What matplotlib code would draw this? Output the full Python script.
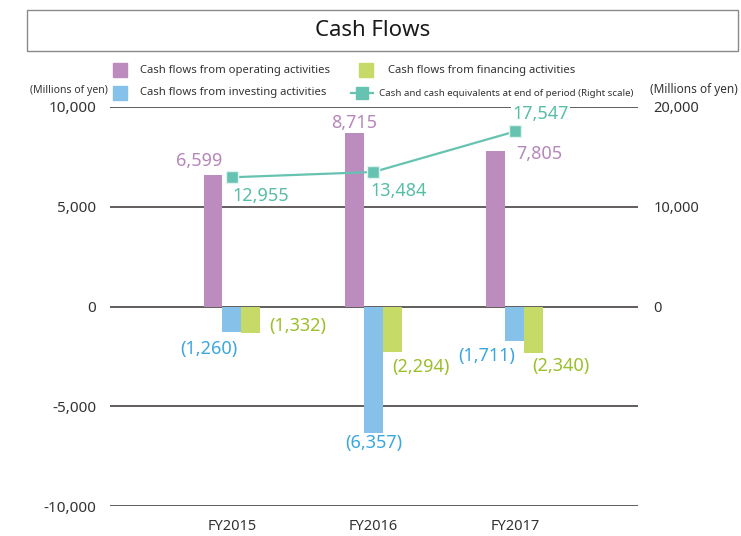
import matplotlib.pyplot as plt
from matplotlib.patches import Rectangle
from matplotlib.lines import Line2D
import numpy as np

# data
years = ['FY2015', 'FY2016', 'FY2017']
operating = [6599, 8715, 7805]
investing = [-1260, -6357, -1711]
financing = [-1332, -2294, -2340]
cash_end = [12955, 13484, 17547]

c_op = '#bc8cbf'
c_inv = '#86c1ea'
c_fin = '#c6da68'
c_cash = '#66c3b1'
t_op = '#b587b9'
t_inv = '#3ba7df'
t_fin = '#9cbf2b'
t_cash = '#57bda7'

plt.rcParams['font.family'] = ['Noto Sans', 'DejaVu Sans']

W, H = 741, 536
fig = plt.figure(figsize=(W / 100, H / 100), dpi=100)

def fx(px):
    return px / W

def fy(py):
    return 1 - py / H

# axes placed by pixels
ax = fig.add_axes([fx(110), fy(506), fx(638) - fx(110), fy(107) - fy(506)])
ax2 = ax.twinx()

x = np.arange(len(years))
bw = 0.134
ax.bar(x - bw, operating, bw, color=c_op, zorder=3)
ax.bar(x, investing, bw, color=c_inv, zorder=3)
ax.bar(x + bw, financing, bw, color=c_fin, zorder=3)

ax.set_xlim(-0.862, 2.87)
ax.set_ylim(-10000, 10000)
ax.set_yticks([-10000, -5000, 0, 5000, 10000])
ax.set_yticklabels(['-10,000', '-5,000', '0', '5,000', '10,000'])
for v in [-10000, -5000, 0, 5000, 10000]:
    ax.axhline(v, color='#555050', lw=1.3, zorder=2)
ax.set_xticks(x)
ax.set_xticklabels(years)
ax.tick_params(axis='y', length=0, pad=10, labelsize=11, colors='#333')
ax.tick_params(axis='x', length=0, pad=9, labelsize=10.5, colors='#333')
for s in ax.spines.values():
    s.set_visible(False)

ax2.set_ylim(-20000, 20000)
ax2.set_yticks([0, 10000, 20000])
ax2.set_yticklabels(['0', '10,000', '20,000'])
ax2.tick_params(axis='y', length=0, pad=11, labelsize=10.5, colors='#333')
for s in ax2.spines.values():
    s.set_visible(False)
ax2.plot(x, cash_end, color=c_cash, lw=1.6, marker='s', markersize=9,
         markerfacecolor=c_cash, markeredgecolor='#e0f3ef', markeredgewidth=1, zorder=5)

def fmt(v):
    return '({:,})'.format(-v) if v < 0 else '{:,}'.format(v)

fs = 13
# operating labels
ax.text(x[0] - bw * 0.5, operating[0] + 250, fmt(operating[0]), color=t_op, fontsize=fs, ha='right', va='bottom')
ax.text(x[1] - bw, operating[1] + 50, fmt(operating[1]), color=t_op, fontsize=fs, ha='center', va='bottom')
ax.text(x[2] + 0.01, operating[2] - 150, fmt(operating[2]), color=t_op, fontsize=fs, ha='left', va='center')
# investing labels
ax.text(x[0] + 0.042, investing[0] - 400, fmt(investing[0]), color=t_inv, fontsize=fs, ha='right', va='top')
ax.text(x[1], investing[1] - 50, fmt(investing[1]), color=t_inv, fontsize=fs, ha='center', va='top')
ax.text(x[2], investing[2] - 300, fmt(investing[2]), color=t_inv, fontsize=fs, ha='right', va='top')
# financing labels
ax.text(x[0] + bw * 1.7 + 0.035, financing[0] + 350, fmt(financing[0]), color=t_fin, fontsize=fs, ha='left', va='center')
ax.text(x[1] + 0.13, financing[1] - 300, fmt(financing[1]), color=t_fin, fontsize=fs, ha='left', va='top')
ax.text(x[2] + 0.12, financing[2] - 200, fmt(financing[2]), color=t_fin, fontsize=fs, ha='left', va='top')
# cash labels
ax2.text(x[0], cash_end[0] - 1000, fmt(cash_end[0]), color=t_cash, fontsize=fs, ha='left', va='top')
ax2.text(x[1] - 0.02, cash_end[1] - 1000, fmt(cash_end[1]), color=t_cash, fontsize=fs, ha='left', va='top')
ax2.text(x[2] - 0.02, cash_end[2] + 800, fmt(cash_end[2]), color=t_cash, fontsize=fs, ha='left', va='bottom',
         zorder=6, bbox=dict(facecolor='white', edgecolor='none', pad=1))

# title box
fig.patches.append(Rectangle((fx(27), fy(51)), fx(738) - fx(27), fy(10) - fy(51),
                             transform=fig.transFigure, fill=False, ec='#8a8a8a', lw=1))
fig.text(fx(373), fy(30), 'Cash Flows', ha='center', va='center', fontsize=16, color='#1a1a1a')

# legend
def sq(px, py, c):
    fig.patches.append(Rectangle((fx(px - 7), fy(py + 7)), fx(14), 14 / H,
                                 transform=fig.transFigure, color=c))

lfs = 8.1
sq(120, 70, c_op)
fig.text(fx(140), fy(70), 'Cash flows from operating activities', fontsize=lfs, va='center', color='#333')
sq(120, 93, c_inv)
fig.text(fx(140), fy(93), 'Cash flows from investing activities', fontsize=lfs, va='center', color='#333')
sq(366, 70, c_fin)
fig.text(fx(388), fy(70), 'Cash flows from financing activities', fontsize=lfs, va='center', color='#333')
fig.lines.append(Line2D([fx(351), fx(373)], [fy(93), fy(93)], transform=fig.transFigure, color=c_cash, lw=1.6))
fig.patches.append(Rectangle((fx(356), fy(99)), fx(12), 12 / H, transform=fig.transFigure, color=c_cash))
fig.text(fx(379), fy(93), 'Cash and cash equivalents at end of period (Right scale)', fontsize=7.0,
         va='center', color='#333')
fig.text(fx(30), fy(90), '(Millions of yen)', fontsize=7.5, va='center', color='#333')
fig.text(fx(650), fy(90), '(Millions of yen)', fontsize=8.5, va='center', color='#333')

fig.savefig('out.png', dpi=100)
